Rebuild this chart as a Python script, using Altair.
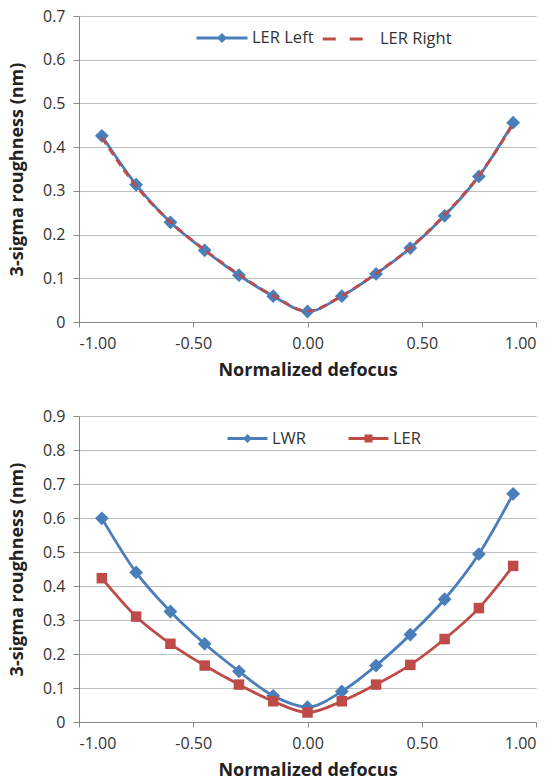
import altair as alt
import pandas as pd

# ---- data ----
defocus = [-0.90, -0.75, -0.60, -0.45, -0.30, -0.15, 0.00, 0.15, 0.30, 0.45, 0.60, 0.75, 0.90]
ler_left = [0.426, 0.314, 0.228, 0.164, 0.107, 0.059, 0.024, 0.059, 0.110, 0.169, 0.243, 0.333, 0.456]
ler_right = [0.422, 0.311, 0.229, 0.165, 0.109, 0.060, 0.025, 0.060, 0.111, 0.170, 0.245, 0.335, 0.452]
lwr = [0.599, 0.440, 0.325, 0.230, 0.149, 0.077, 0.044, 0.090, 0.166, 0.257, 0.361, 0.494, 0.671]
ler = [0.423, 0.310, 0.230, 0.166, 0.110, 0.061, 0.028, 0.061, 0.110, 0.168, 0.244, 0.335, 0.459]

x_ticks = [-1.0, -0.5, 0.0, 0.5, 1.0]
top_y_ticks = [0, 0.1, 0.2, 0.3, 0.4, 0.5, 0.6, 0.7]
bottom_y_ticks = [0, 0.1, 0.2, 0.3, 0.4, 0.5, 0.6, 0.7, 0.8, 0.9]

BLUE = "#4A7EBB"
RED = "#BE4B48"
FONT = "Open Sans"
W, H = 457, 306

DIAMOND_LEG = "M-1,0H1M-0.12,0L0,-0.12L0.12,0L0,0.12Z"
SQUARE_LEG = "M-1,0H1M-0.13,-0.13H0.13V0.13H-0.13Z"
LINE_LEG = "M-1,0H0.6"


def series(values, name, color, y_ticks, lx, ly, sym_path, sym_size,
           point_shape=None, point_size=None, dash=None, legend_dash=None):
    df = pd.DataFrame({"x": defocus, "y": values, "series": name})
    mk = dict(interpolate="monotone", strokeWidth=2.8)
    if point_shape:
        mk["point"] = alt.OverlayMarkDef(shape=point_shape, size=point_size,
                                         filled=True, opacity=1)
    if dash:
        mk["strokeDash"] = dash
    leg = dict(orient="none", legendX=lx, legendY=ly, title=None,
               direction="horizontal", padding=0,
               symbolType=sym_path, symbolSize=sym_size,
               symbolStrokeWidth=2.8, symbolFillColor=color,
               symbolStrokeColor=color,
               labelFont=FONT, labelFontSize=16.5, labelColor="#333",
               labelOffset=3)
    if legend_dash:
        leg["symbolDash"] = legend_dash
    return alt.Chart(df).mark_line(**mk).encode(
        x=alt.X("x:Q", scale=alt.Scale(domain=[-1, 1], nice=False),
                axis=alt.Axis(values=x_ticks, grid=False, title="Normalized defocus",
                              labelExpr="replace(format(datum.value, '.2f'), '\u2212', '-')")),
        y=alt.Y("y:Q", scale=alt.Scale(domain=[y_ticks[0], y_ticks[-1]], nice=False),
                axis=alt.Axis(values=y_ticks, grid=True, format=".1~f",
                              title="3-sigma roughness (nm)")),
        color=alt.Color("series:N", scale=alt.Scale(domain=[name], range=[color]),
                        legend=alt.Legend(**leg)),
    )


top = alt.layer(
    series(ler_left, "LER Left", BLUE, top_y_ticks, 116, -5, DIAMOND_LEG, 2601,
           point_shape="diamond", point_size=190),
    series(ler_right, "LER Right", RED, top_y_ticks, 242, -5, LINE_LEG, 2756,
           dash=[8, 5], legend_dash=[13, 14]),
).resolve_scale(color="independent").properties(width=W, height=H)

bottom = alt.layer(
    series(lwr, "LWR", BLUE, bottom_y_ticks, 147, 1, DIAMOND_LEG, 1600,
           point_shape="diamond", point_size=190),
    series(ler, "LER", RED, bottom_y_ticks, 268, 1, SQUARE_LEG, 1600,
           point_shape="square", point_size=110),
).resolve_scale(color="independent").properties(width=W, height=H)

chart = alt.vconcat(top, bottom, spacing=29).properties(
    padding={"left": 8, "top": 8, "right": 0, "bottom": 0},
    background="white",
).configure_view(stroke=None).configure_axis(
    labelFont=FONT, labelFontSize=16, labelColor="#333",
    titleFont=FONT, titleFontSize=18, titleFontWeight="bold", titleColor="#222",
    domainColor="#888", domainWidth=1, tickColor="#888",
    gridColor="#BFBFBF", gridWidth=1,
).configure_axisX(
    tickSize=5, labelPadding=8, titlePadding=10,
).configure_axisY(
    tickSize=6, labelPadding=8, titlePadding=16,
)

chart.save("out.html", embed_options={"renderer": "svg", "actions": False})
